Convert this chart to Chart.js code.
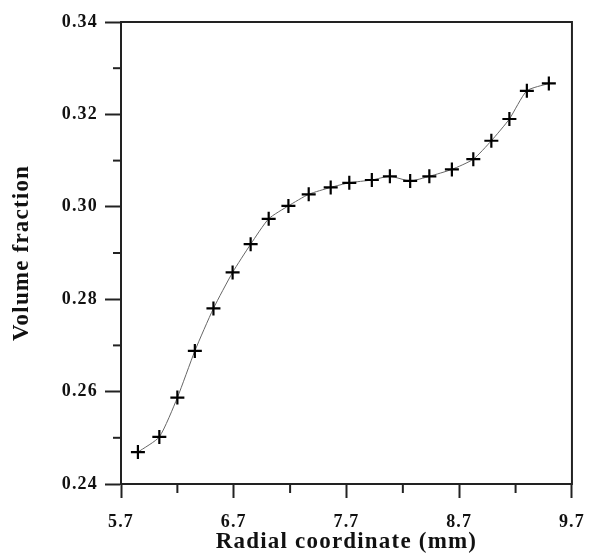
<!DOCTYPE html>
<html>
<head>
<meta charset="utf-8">
<script src="https://cdn.jsdelivr.net/npm/chart.js@4/dist/chart.umd.min.js"></script>
<style>
html,body{margin:0;padding:0;background:#fff;}
#wrap{width:599px;height:557px;position:relative;}
</style>
</head>
<body>
<div id="wrap"><canvas id="c" width="599" height="557"></canvas></div>
<script>
const radialX = [5.85, 6.04, 6.20, 6.355, 6.52, 6.69, 6.85, 7.01, 7.185, 7.365, 7.56, 7.725, 7.925, 8.085, 8.265, 8.435, 8.635, 8.825, 8.985, 9.145, 9.30, 9.495];
const volumeFraction = [0.2469, 0.2502, 0.2587, 0.2688, 0.2780, 0.2858, 0.2919, 0.2974, 0.3002, 0.3027, 0.3042, 0.3052, 0.3058, 0.3066, 0.3056, 0.3066, 0.3081, 0.3103, 0.3143, 0.3190, 0.3251, 0.3267];
const xTickValues = [5.7, 6.2, 6.7, 7.2, 7.7, 8.2, 8.7, 9.2, 9.7];
const xTickLabels = ['5.7', '', '6.7', '', '7.7', '', '8.7', '', '9.7'];
const yTickValues = [0.24, 0.25, 0.26, 0.27, 0.28, 0.29, 0.30, 0.31, 0.32, 0.33, 0.34];
const yTickLabels = ['0.24', '', '0.26', '', '0.28', '', '0.30', '', '0.32', '', '0.34'];

const points = radialX.map((x, i) => ({x: x, y: volumeFraction[i]}));
const serif = "'Liberation Serif', 'Times New Roman', serif";

const framePlugin = {
  id: 'frame',
  beforeLayout(chart) { chart.ctx.letterSpacing = '1.2px'; },
  beforeDraw(chart) { chart.ctx.letterSpacing = '1.2px'; },
  afterDraw(chart) {
    const ctx = chart.ctx, a = chart.chartArea;
    ctx.save();
    ctx.strokeStyle = '#222';
    ctx.lineWidth = 2;
    ctx.strokeRect(a.left, a.top, a.right - a.left, a.bottom - a.top);
    const xs = chart.scales.x, ys = chart.scales.y;
    xTickValues.forEach((v, i) => {
      if (xTickLabels[i] === '') {
        const px = xs.getPixelForValue(v);
        ctx.beginPath(); ctx.moveTo(px, a.bottom); ctx.lineTo(px, a.bottom + 9); ctx.stroke();
      }
    });
    yTickValues.forEach((v, i) => {
      if (yTickLabels[i] === '') {
        const py = ys.getPixelForValue(v);
        ctx.beginPath(); ctx.moveTo(a.left, py); ctx.lineTo(a.left - 8, py); ctx.stroke();
      }
    });
    ctx.restore();
  }
};

new Chart(document.getElementById('c'), {
  type: 'scatter',
  data: {
    datasets: [{
      data: points,
      showLine: true,
      borderColor: '#666',
      borderWidth: 1,
      tension: 0.2,
      pointStyle: 'cross',
      pointRadius: 7,
      pointBorderWidth: 2.2,
      pointBorderColor: '#000',
      pointBackgroundColor: '#000'
    }]
  },
  options: {
    responsive: false,
    animation: false,
    devicePixelRatio: 1,
    layout: { padding: { left: 0, right: 16, top: 22, bottom: 0 } },
    plugins: { legend: { display: false }, tooltip: { enabled: false } },
    scales: {
      x: {
        type: 'linear',
        min: 5.7, max: 9.7,
        afterBuildTicks(scale) { scale.ticks = xTickValues.map(v => ({value: v})); },
        afterFit(scale) { scale.height = 73; },
        ticks: {
          autoSkip: false,
          maxRotation: 0,
          padding: 14,
          color: '#111',
          font: { family: serif, size: 18, weight: 'bold' },
          callback(value, index) { return xTickLabels[index]; }
        },
        grid: {
          drawOnChartArea: false,
          tickLength: 14,
          tickWidth: 2,
          tickColor(ctx) { return xTickLabels[ctx.index] === '' ? 'rgba(0,0,0,0)' : '#222'; }
        },
        border: { display: true, color: '#222', width: 2 },
        title: {
          display: true,
          text: 'Radial coordinate (mm)',
          color: '#111',
          font: { family: serif, size: 23, weight: 'bold' },
          padding: { top: 0, bottom: 1 }
        }
      },
      y: {
        type: 'linear',
        min: 0.24, max: 0.34,
        afterBuildTicks(scale) { scale.ticks = yTickValues.map(v => ({value: v})); },
        afterFit(scale) { scale.width = 121; },
        ticks: {
          autoSkip: false,
          padding: 7,
          color: '#111',
          font: { family: serif, size: 18, weight: 'bold' },
          callback(value, index) { return yTickLabels[index]; }
        },
        grid: {
          drawOnChartArea: false,
          tickLength: 16,
          tickWidth: 2,
          tickColor(ctx) { return yTickLabels[ctx.index] === '' ? 'rgba(0,0,0,0)' : '#222'; }
        },
        border: { display: true, color: '#222', width: 2 },
        title: {
          display: true,
          text: 'Volume fraction',
          color: '#111',
          font: { family: serif, size: 23, weight: 'bold' },
          padding: { top: 8, bottom: 0 }
        }
      }
    }
  },
  plugins: [framePlugin]
});
</script>
</body>
</html>
